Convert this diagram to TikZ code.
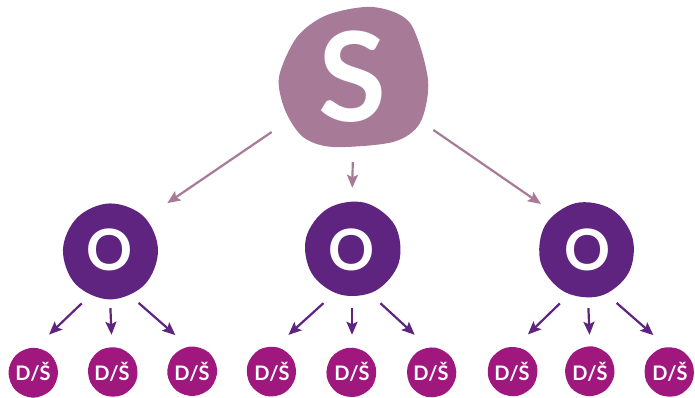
\documentclass[tikz,border=0pt]{standalone}
\usepackage{fontspec}
\setmainfont{Lato}
\usetikzlibrary{arrows.meta}
\definecolor{scol}{HTML}{A77A98}
\definecolor{ocol}{HTML}{5F2380}
\definecolor{dcol}{HTML}{A0187E}
% irregular round patch behind a node
\newcommand\blob[4]{\fill[#1,shift={(#2)},rotate=#4] plot[smooth cycle,tension=0.6] coordinates
  {(0:#3) (45:{1.02*#3}) (90:{1.03*#3}) (135:{1.01*#3})
   (180:{0.98*#3}) (225:{0.96*#3}) (270:{0.97*#3}) (315:{0.99*#3})};}
\tikzset{
  snode/.style={circle,minimum size=144pt,inner sep=0pt,text=white,font=\bfseries\fontsize{124}{124}\selectfont},
  onode/.style={circle,minimum size=96pt,inner sep=0pt,text=white,font=\bfseries\fontsize{57}{57}\selectfont},
  dnode/.style={circle,minimum size=50pt,inner sep=0pt,text=white,font=\bfseries\fontsize{20}{20}\selectfont},
  sarrow/.style={scol,line width=2.2pt,-{Stealth[length=13pt,width=11pt,inset=2.5pt]}},
  oarrow/.style={ocol,line width=2.2pt,-{Stealth[length=13pt,width=11pt,inset=2.5pt]}}
}
\begin{document}
\begin{tikzpicture}[x=1pt,y=-1pt]
  \useasboundingbox (0,0) rectangle (695,398);
  % top
  \fill[scol] plot[smooth cycle] coordinates {(373,7) (410,23) (428,80) (420,123) (393,142)
    (333,147) (303,137) (285,110) (279,77) (297,37) (327,15)};
  \node[snode] (s) at (353,77) {S};
  % middle row
  \blob{ocol}{110,250}{48}{0}
  \blob{ocol}{352,250}{48}{120}
  \blob{ocol}{588,250}{48}{240}
  \node[onode] (o1) at (110,250) {O};
  \node[onode] (o2) at (352,250) {O};
  \node[onode] (o3) at (588,250) {O};
  % bottom row
  \foreach \x/\n/\r in {33/d1/0,112/d2/70,192/d3/140,272/d4/210,352/d5/280,431/d6/35,
                        512/d7/105,590/d8/175,670/d9/245}{
    \blob{dcol}{\x,372}{25}{\r}
    \node[dnode] (\n) at (\x,372) {D/Š};
  }
  % arrows
  \draw[sarrow,shorten <=26pt,shorten >=26pt] (s.214) -- (o1.42);
  \draw[sarrow,shorten <=13pt,shorten >=14pt] (s.270) -- (o2.90);
  \draw[sarrow,shorten <=24pt,shorten >=18pt] (s.327) -- (o3.132);
  \foreach \o/\a/\b/\c in {o1/d1/d2/d3,o2/d4/d5/d6,o3/d7/d8/d9}{
    \draw[oarrow,shorten <=13pt,shorten >=18pt] (\o.247) -- (\a.83);
    \draw[oarrow,shorten <=10pt,shorten >=12pt] (\o.270) -- (\b.90);
    \draw[oarrow,shorten <=13pt,shorten >=18pt] (\o.293) -- (\c.97);
  }
\end{tikzpicture}
\end{document}
